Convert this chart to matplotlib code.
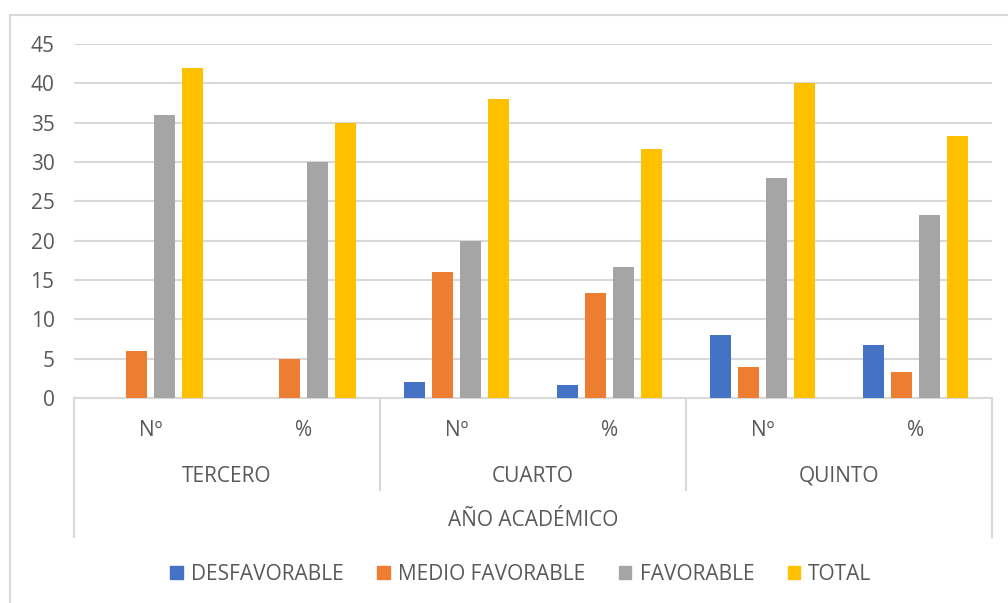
import matplotlib.pyplot as plt
from matplotlib.patches import Patch
import numpy as np

plt.rcParams['font.family'] = ['Open Sans', 'DejaVu Sans']

# datos
anios = ["TERCERO", "CUARTO", "QUINTO"]
sub = ["Nº", "%", "Nº", "%", "Nº", "%"]
series = ["DESFAVORABLE", "MEDIO FAVORABLE", "FAVORABLE", "TOTAL"]
desfavorable = [0, 0, 2, 1.7, 8, 6.7]
medio_favorable = [6, 5, 16, 13.3, 4, 3.3]
favorable = [36, 30, 20, 16.7, 28, 23.3]
total = [42, 35, 38, 31.7, 40, 33.3]
colores = ["#4472C4", "#ED7D31", "#A5A5A5", "#FFC000"]

valores = [desfavorable, medio_favorable, favorable, total]
fs = 15

fig = plt.figure(figsize=(10.08, 6.03), dpi=100)
ax = fig.add_axes([74/1008, 205/603, 918/1008, 354/603])

x = np.arange(len(sub))
ancho = 0.14
paso = 0.183
for i, (nombre, vals) in enumerate(zip(series, valores)):
    ax.bar(x + (i - 1.5) * paso, vals, ancho, color=colores[i], label=nombre, zorder=3)

ax.set_xlim(-0.5, 5.5)
ax.set_ylim(0, 45)
ax.set_yticks(range(0, 46, 5))
ax.grid(axis='y', color='#D9D9D9', linewidth=1.5, zorder=0)
for s in ax.spines.values():
    s.set_visible(False)
ax.tick_params(axis='y', length=0, labelsize=fs, labelcolor='#595959', pad=14)
ax.set_xticks([])

gris = '#D9D9D9'
txt = '#595959'
trans = ax.get_xaxis_transform()
# linea del eje x y divisores de categorias
ax.plot([-0.5, 5.5], [0, 0], color=gris, lw=1.5, transform=trans, clip_on=False)
fondo1 = -92/354
fondo2 = -139/354
ax.plot([-0.5, -0.5], [0, fondo2], color=gris, lw=1.5, transform=trans, clip_on=False)
ax.plot([5.5, 5.5], [0, fondo2], color=gris, lw=1.5, transform=trans, clip_on=False)
for d in [1.5, 3.5]:
    ax.plot([d, d], [0, fondo1], color=gris, lw=1.5, transform=trans, clip_on=False)

for xi, s in zip(x, sub):
    ax.text(xi, -32/354, s, ha='center', va='center', fontsize=fs, color=txt, transform=trans)
for j, a in enumerate(anios):
    ax.text(2 * j + 0.5, -78/354, a, ha='center', va='center', fontsize=fs, color=txt, transform=trans)
ax.text(2.5, -123/354, "AÑO ACADÉMICO", ha='center', va='center', fontsize=fs, color=txt, transform=trans)

handles = [Patch(color=c) for c in colores]
fig.legend(handles, series, loc='center', bbox_to_anchor=(521/1008, 1 - 574/603), ncol=4,
           frameon=False, fontsize=fs, labelcolor=txt, handlelength=0.6, handleheight=0.6,
           handletextpad=0.4, columnspacing=1.6)

# borde exterior
fig.add_artist(plt.Line2D([10/1008, 10/1008], [0, 1 - 15/603], color=gris, lw=1.5))
fig.add_artist(plt.Line2D([10/1008, 1], [1 - 15/603, 1 - 15/603], color=gris, lw=1.5))

fig.savefig("out.png", dpi=100)
